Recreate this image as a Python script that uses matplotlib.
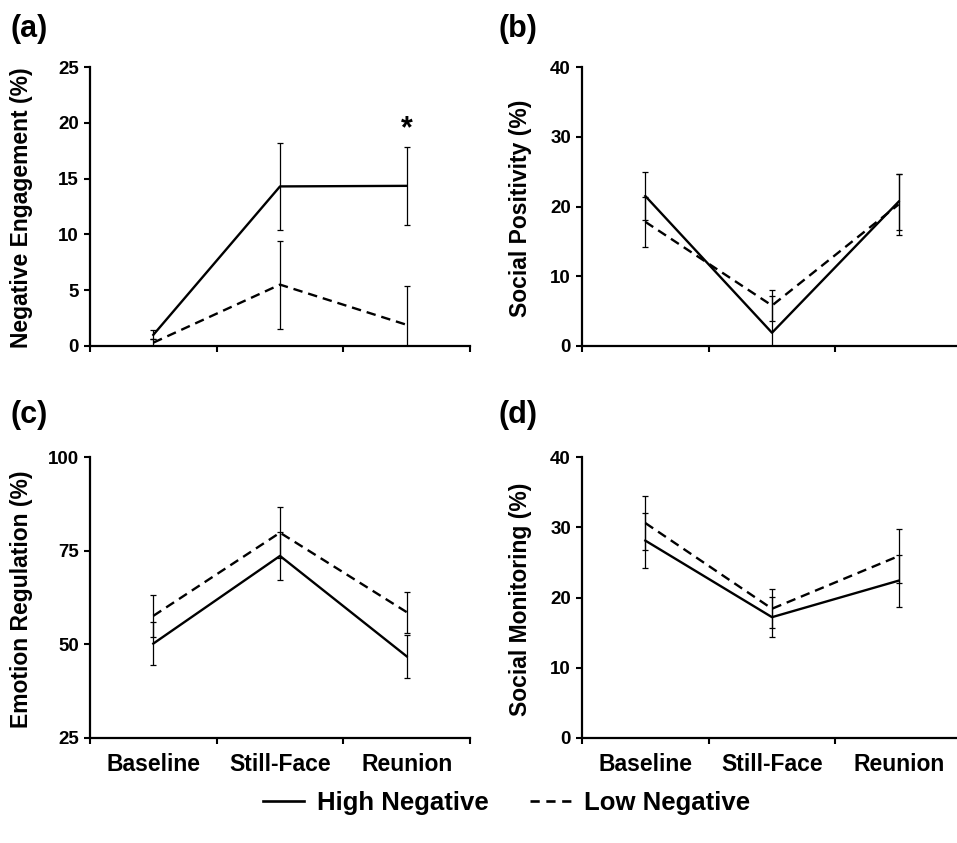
import matplotlib
matplotlib.use("Agg")
import matplotlib.pyplot as plt
from matplotlib.lines import Line2D

plt.rcParams['font.family'] = ['Liberation Sans', 'DejaVu Sans']
plt.rcParams['font.weight'] = 'bold'

phases = ["Baseline", "Still-Face", "Reunion"]

# (a) Negative Engagement
neg_high = [1.0, 14.3, 14.35]
neg_high_err = [0.4, 3.9, 3.5]
neg_low = [0.3, 5.5, 1.9]
neg_low_err = [0.3, 3.95, 3.5]

# (b) Social Positivity
pos_high = [21.5, 1.9, 20.7]
pos_high_err = [3.5, 5.3, 4.0]
pos_low = [17.8, 5.8, 20.3]
pos_low_err = [3.6, 2.2, 4.4]

# (c) Emotion Regulation
reg_high = [50.2, 73.6, 46.8]
reg_high_err = [5.8, 6.3, 5.7]
reg_low = [57.6, 79.8, 58.6]
reg_low_err = [5.7, 6.8, 5.5]

# (d) Social Monitoring
mon_high = [28.1, 17.2, 22.4]
mon_high_err = [3.9, 2.85, 3.7]
mon_low = [30.6, 18.4, 25.9]
mon_low_err = [3.9, 2.8, 3.8]

series_labels = ["High Negative", "Low Negative"]

panels = [
    ("(a)", "Negative Engagement (%)", neg_high, neg_high_err, neg_low, neg_low_err, (0, 25), [0, 5, 10, 15, 20, 25], False),
    ("(b)", "Social Positivity (%)", pos_high, pos_high_err, pos_low, pos_low_err, (0, 40), [0, 10, 20, 30, 40], False),
    ("(c)", "Emotion Regulation (%)", reg_high, reg_high_err, reg_low, reg_low_err, (25, 100), [25, 50, 75, 100], True),
    ("(d)", "Social Monitoring (%)", mon_high, mon_high_err, mon_low, mon_low_err, (0, 40), [0, 10, 20, 30, 40], True),
]

W, H = 957, 843
fig = plt.figure(figsize=(W / 100, H / 100), dpi=100)

# axes positions in pixels: left, top, right, bottom
boxes = [
    (90, 67, 470, 346),
    (582, 67, 962, 346),
    (90, 457, 470, 738),
    (582, 457, 962, 738),
]
label_x = [-0.15, -0.132, -0.15, -0.132]
panel_pos = [(11, 29), (499, 29), (11, 415), (499, 415)]

x = [0.5, 1.5, 2.5]
dash = (0, (4, 2.5))

for i, (tag, ylabel, hi, hie, lo, loe, ylim, yticks, show_x) in enumerate(panels):
    l, t, r, b = boxes[i]
    ax = fig.add_axes([l / W, 1 - b / H, (r - l) / W, (b - t) / H])
    ax.errorbar(x, hi, yerr=hie, color='black', lw=1.7, elinewidth=0.9,
                capsize=2, capthick=0.9, ls='-')
    ax.errorbar(x, lo, yerr=loe, color='black', lw=1.7, elinewidth=0.9,
                capsize=2, capthick=0.9, ls=dash)
    ax.set_xlim(0, 3)
    ax.set_ylim(*ylim)
    ax.set_yticks(yticks)
    ax.set_xticks([0, 1, 2, 3])
    ax.set_xticklabels([])
    ax.tick_params(axis='y', direction='out', length=4, width=1.5, pad=4, labelsize=13.5)
    ax.tick_params(axis='x', direction='out', length=4, width=1.5)
    for lab in ax.get_yticklabels():
        lab.set_fontweight('bold')
    if show_x:
        for xi, name in zip(x, phases):
            ax.text(xi, -0.055, name, transform=ax.get_xaxis_transform(),
                    ha='center', va='top', fontsize=16.5, fontweight='bold')
    for s in ['top', 'right']:
        ax.spines[s].set_visible(False)
    for s in ['left', 'bottom']:
        ax.spines[s].set_linewidth(1.6)
    ax.set_ylabel(ylabel, fontsize=16.5, fontweight='bold')
    ax.yaxis.set_label_coords(label_x[i], 0.495)
    px, py = panel_pos[i]
    fig.text(px / W, 1 - py / H, tag, fontsize=22, fontweight='bold', ha='left', va='center')
    if i == 0:
        ax.text(2.5, 19.4, "*", ha='center', va='center', fontsize=22, fontweight='bold')

handles = [Line2D([], [], color='black', lw=1.9, ls='-'),
           Line2D([], [], color='black', lw=1.9, ls=(0, (3.5, 2.5)))]
fig.legend(handles, series_labels, loc='center', bbox_to_anchor=(0.529, 0.047),
           ncol=2, frameon=False, handlelength=1.6, handletextpad=0.5, columnspacing=1.6,
           prop={'size': 18.5, 'weight': 'bold'})

fig.savefig("out.png", dpi=100)
